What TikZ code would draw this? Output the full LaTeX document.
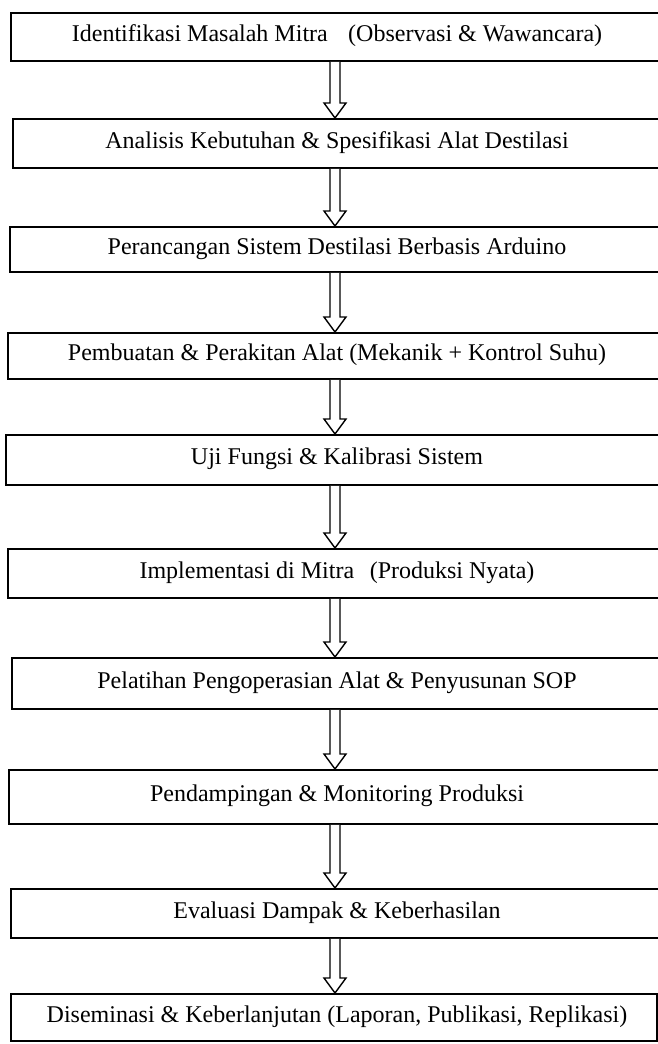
\documentclass[tikz,border=0pt]{standalone}
\usepackage{fontspec}
\setmainfont{Liberation Serif}
\usetikzlibrary{calc}
\tikzset{
  stepbox/.style={draw=black, line width=1.8pt, inner sep=0pt, anchor=north west},
  steptext/.style={inner sep=0pt, font=\fontsize{24}{28}\selectfont},
  hollowarrow/.style={draw=black, line width=1.4pt, fill=white, line join=miter},
}
\newcommand{\mkbox}[6]{% name, left, top, right, bottom, text
  \node[stepbox, minimum width={#4-#2}, minimum height={#5-#3}] (#1) at (#2,#3) {};
  \node[steptext] (#1t) at (337,{(#3+#5)/2}) {#6};
}
\newcommand{\mkarrow}[2]{%
  \draw[hollowarrow] (#1.south -| axis) ++(-5,0) coordinate (#1s)
    -- ($(#2.north -| axis)+(-5,-15)$)
    -- ($(#2.north -| axis)+(-11,-15)$)
    -- (#2.north -| axis)
    -- ($(#2.north -| axis)+(11,-15)$)
    -- ($(#2.north -| axis)+(5,-15)$)
    -- ($(#1.south -| axis)+(5,0)$);
}
\begin{document}
\begin{tikzpicture}[x=1pt,y=-1pt]
\useasboundingbox (0,0) rectangle (658,1044);
\clip (0,0) rectangle (658,1044);
\fill[white] (0,0) rectangle (658,1044);
\coordinate (axis) at (335,0);
\mkbox{b1}{10}{12}{672}{60}{Identifikasi Masalah Mitra\hspace{0.6em} (Observasi \& Wawancara)}
\mkbox{b2}{12}{118}{672}{167}{Analisis Kebutuhan \& Spesifikasi Alat Destilasi}
\mkbox{b3}{9}{226}{672}{271}{Perancangan Sistem Destilasi Berbasis Arduino}
\mkbox{b4}{7}{332}{672}{378}{Pembuatan \& Perakitan Alat (Mekanik + Kontrol Suhu)}
\mkbox{b5}{5}{434}{672}{484}{Uji Fungsi \& Kalibrasi Sistem}
\mkbox{b6}{7}{548}{672}{597}{Implementasi di Mitra\hspace{0.4em} (Produksi Nyata)}
\mkbox{b7}{11}{657}{672}{708}{Pelatihan Pengoperasian Alat \& Penyusunan SOP}
\mkbox{b8}{8}{769}{672}{823}{Pendampingan \& Monitoring Produksi}
\mkbox{b9}{10}{888}{672}{937}{Evaluasi Dampak \& Keberhasilan}
\mkbox{b10}{10}{993}{656}{1040}{Diseminasi \& Keberlanjutan (Laporan, Publikasi, Replikasi)}
\mkarrow{b1}{b2}
\mkarrow{b2}{b3}
\mkarrow{b3}{b4}
\mkarrow{b4}{b5}
\mkarrow{b5}{b6}
\mkarrow{b6}{b7}
\mkarrow{b7}{b8}
\mkarrow{b8}{b9}
\mkarrow{b9}{b10}
\end{tikzpicture}
\end{document}
